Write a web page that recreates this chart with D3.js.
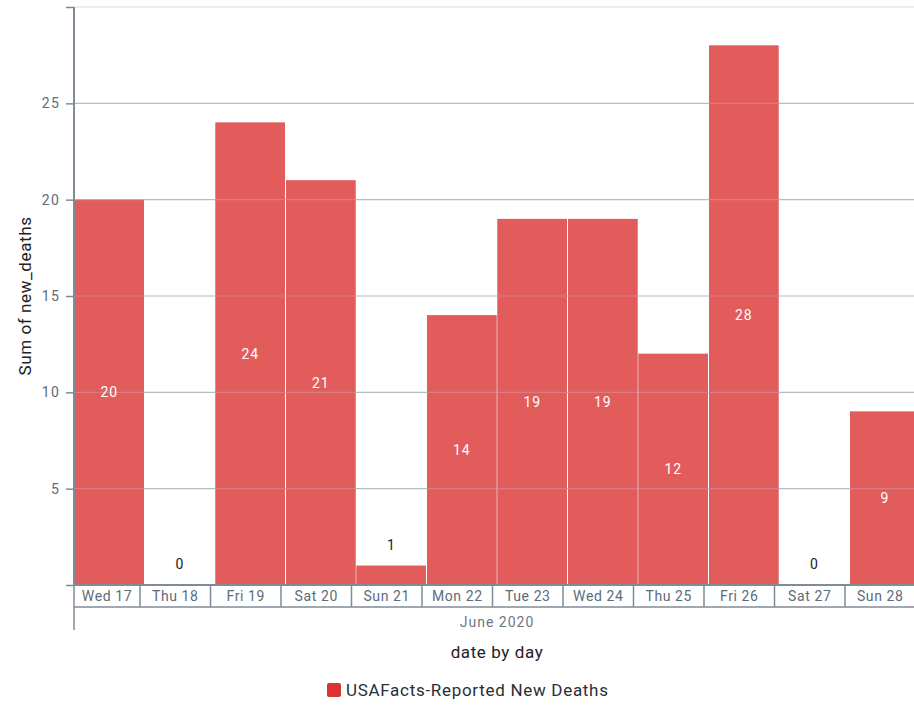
<!DOCTYPE html>
<html><head><meta charset="utf-8">
<script src="https://cdn.jsdelivr.net/npm/d3@7"></script>
<style>body{margin:0;background:#fff}svg{display:block}text{font-family:Roboto,"DejaVu Sans",sans-serif}</style>
</head><body><svg id="c" width="914" height="706"></svg>
<script>
const days = ["Wed 17","Thu 18","Fri 19","Sat 20","Sun 21","Mon 22","Tue 23","Wed 24","Thu 25","Fri 26","Sat 27","Sun 28"];
const newDeaths = [20,0,24,21,1,14,19,19,12,28,0,9];
const yTicks = [5,10,15,20,25];
const monthLabel = "June 2020";
const seriesName = "USAFacts-Reported New Deaths";

const svg = d3.select("#c");
const L = 74, R = 920, T = 7, B = 585;
const x = d3.scaleBand().domain(days).range([L, R]).padding(0);
const y = d3.scaleLinear().domain([0, 30]).range([B, T]);
const axisCol = "#7f8b96", tickCol = "#5b6b7c";
const off = -4.5;

svg.append("g").selectAll("rect").data(days).join("rect")
  .attr("x", d => x(d) + 0.5).attr("width", x.bandwidth() - 1)
  .attr("y", (d,i) => y(newDeaths[i])).attr("height", (d,i) => B - y(newDeaths[i]))
  .attr("fill", "#d93434");

const grid = svg.append("g");
grid.selectAll("line").data(yTicks.concat([30])).join("line")
  .attr("x1", L).attr("x2", R).attr("y1", d => y(d)).attr("y2", d => y(d))
  .attr("stroke", d => d === 30 ? "#d5dbe0" : "#b4bcc4").attr("stroke-width", 1.2);

svg.append("g").selectAll("rect").data(days).join("rect")
  .attr("x", d => x(d) + 0.5).attr("width", x.bandwidth() - 1)
  .attr("y", (d,i) => y(newDeaths[i])).attr("height", (d,i) => B - y(newDeaths[i]))
  .attr("fill", "#e46a6a").attr("fill-opacity", 0.75);

svg.append("g").selectAll("text").data(days).join("text")
  .attr("x", d => x(d) + x.bandwidth()/2)
  .attr("y", (d,i) => newDeaths[i] < 3 ? y(newDeaths[i]) - 21 : (y(newDeaths[i]) + B)/2)
  .attr("dy", "0.35em").attr("text-anchor", "middle").attr("font-size", 14)
  .attr("fill", (d,i) => newDeaths[i] < 3 ? "#222" : "#fff").style("letter-spacing","0.8px")
  .text((d,i) => newDeaths[i]);

const yAxis = d3.axisLeft(y).tickValues([0].concat(yTicks).concat([30])).tickSize(8)
  .tickFormat(d => (d === 0 || d === 30) ? "" : d);
const ya = svg.append("g").attr("transform", `translate(${L},0)`).call(yAxis);
ya.select(".domain").attr("stroke", axisCol).attr("stroke-width", 2).attr("d", `M0,${T}V${B}`);
ya.selectAll(".tick line").attr("stroke", axisCol).attr("stroke-width", 1.5);
ya.selectAll(".tick text").attr("fill", tickCol).attr("font-size", 14).attr("font-family", "Roboto, sans-serif").attr("x", -14).style("letter-spacing","1.2px");

const xa = svg.append("g");
xa.append("line").attr("x1", L).attr("x2", R).attr("y1", B).attr("y2", B).attr("stroke", axisCol).attr("stroke-width", 2);
xa.append("line").attr("x1", L).attr("x2", R).attr("y1", 607).attr("y2", 607).attr("stroke", axisCol).attr("stroke-width", 1.5);
xa.selectAll(".sep").data(days.slice(1)).join("line").attr("class","sep")
  .attr("x1", d => x(d) + off).attr("x2", d => x(d) + off).attr("y1", B).attr("y2", 607)
  .attr("stroke", axisCol).attr("stroke-width", 1.5);
xa.append("line").attr("x1", L).attr("x2", L).attr("y1", B).attr("y2", 630).attr("stroke", axisCol).attr("stroke-width", 1.5);
xa.selectAll(".lbl").data(days).join("text").attr("class","lbl")
  .attr("x", (d,i) => i === 0 ? (L + x(days[1]) + off)/2 : x(d) + off + x.bandwidth()/2).attr("y", 601)
  .attr("text-anchor", "middle").attr("font-size", 14).attr("fill", tickCol).style("letter-spacing","0.6px").text(d => d);
xa.append("text").attr("x", 497).attr("y", 627).attr("text-anchor","middle")
  .attr("font-size", 14).attr("fill", "#6b7885").style("letter-spacing","1px").text(monthLabel);

svg.append("text").attr("x", 497).attr("y", 658).attr("text-anchor","middle")
  .attr("font-size", 17).attr("fill", "#222").style("letter-spacing","0.6px").text("date by day");
svg.append("text").attr("transform", `translate(31,${(T+B)/2}) rotate(-90)`).attr("text-anchor","middle")
  .attr("font-size", 17).attr("fill", "#222").style("letter-spacing","0.6px").text("Sum of new_deaths");

const lg = svg.append("g").attr("transform", "translate(327,683)");
lg.append("rect").attr("width", 14).attr("height", 14).attr("rx", 2).attr("fill", "#d93434");
lg.append("text").attr("x", 19).attr("y", 13).attr("font-size", 17).attr("fill", "#2a2f36").style("letter-spacing","0.7px").text(seriesName);
</script></body></html>
